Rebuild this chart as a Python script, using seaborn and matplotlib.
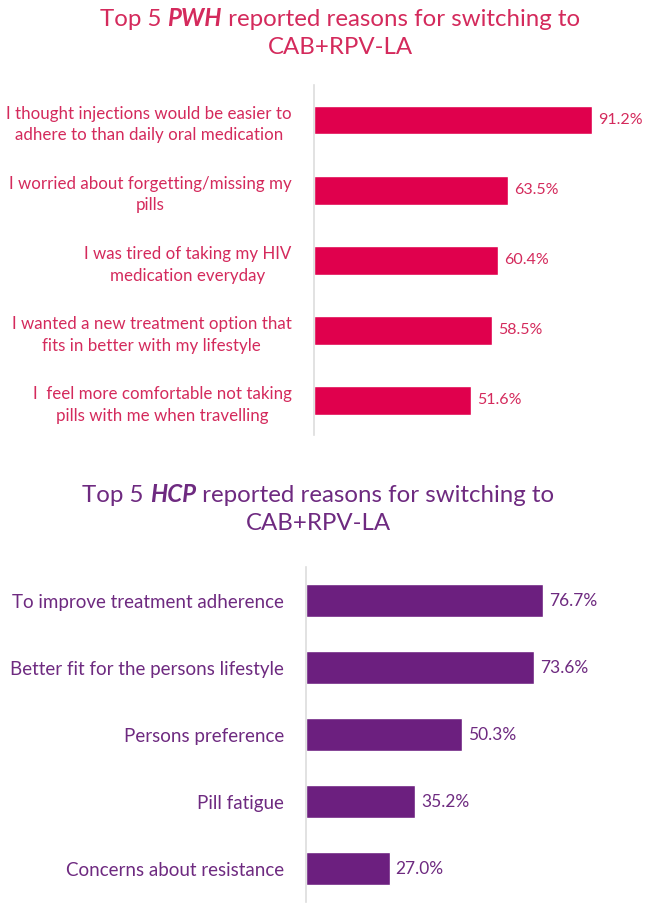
import pandas as pd
import seaborn as sns
import matplotlib.pyplot as plt

# Data
pwh_reasons = [
    "I thought injections would be easier to\nadhere to than daily oral medication",
    "I worried about forgetting/missing my\npills",
    "I was tired of taking my HIV\nmedication everyday",
    "I wanted a new treatment option that\nfits in better with my lifestyle",
    "I  feel more comfortable not taking\npills with me when travelling",
]
pwh_pct = [91.2, 63.5, 60.4, 58.5, 51.6]

hcp_reasons = [
    "To improve treatment adherence",
    "Better fit for the persons lifestyle",
    "Persons preference",
    "Pill fatigue",
    "Concerns about resistance",
]
hcp_pct = [76.7, 73.6, 50.3, 35.2, 27.0]

pink_bar = "#E0004D"
pink_text = "#D42A5C"
purple_bar = "#6C1F7F"
purple_text = "#6E2A80"

sns.set_style("white")
plt.rcParams['font.family'] = ['Lato', 'DejaVu Sans']

fig = plt.figure(figsize=(6.47, 9.05), dpi=100)
ax1 = fig.add_axes([0.485, 0.519, 0.472, 0.387])
ax2 = fig.add_axes([0.473, 0.003, 0.478, 0.3705])


def draw_panel(ax, reasons, pct, bar_col, txt_col, width, lsize, vsize):
    df = pd.DataFrame({"reason": reasons, "pct": pct})
    sns.barplot(data=df, x="pct", y="reason", orient="h", color=bar_col,
                width=width, saturation=1, ax=ax)
    ax.set_xlim(0, 100)
    ax.set_xlabel("")
    ax.set_ylabel("")
    ax.set_xticks([])
    for s in ["top", "right", "bottom"]:
        ax.spines[s].set_visible(False)
    ax.spines["left"].set_color("#DDDDDD")
    ax.spines["left"].set_linewidth(1.2)
    ax.tick_params(axis="y", length=0, pad=16, labelsize=lsize, labelcolor=txt_col)
    for lab in ax.get_yticklabels():
        lab.set_multialignment("center")
        lab.set_linespacing(1.45)
    for i, v in enumerate(pct):
        ax.text(v + 2, i, f"{v:.1f}%", va="center", ha="left",
                fontsize=vsize, color=txt_col)


draw_panel(ax1, pwh_reasons, pwh_pct, pink_bar, pink_text, 0.41, 12.2, 11.5)
draw_panel(ax2, hcp_reasons, hcp_pct, purple_bar, purple_text, 0.49, 13.5, 12.5)


def title(parts, cx, y, color, size=17.3):
    # draw a line of mixed-style text centred at cx (figure px)
    r = fig.canvas.get_renderer()
    objs = []
    for txt, bold in parts:
        t = fig.text(0, 0, txt, fontsize=size, color=color,
                     fontweight="bold" if bold else "normal",
                     fontstyle="italic" if bold else "normal",
                     transform=None, va="baseline")
        objs.append(t)
    widths = [o.get_window_extent(r).width for o in objs]
    x = cx - sum(widths) / 2
    for o, w in zip(objs, widths):
        o.set_position((x, y))
        x += w


H = 905
title([("Top 5 ", False), ("PWH", True), (" reported reasons for switching to", False)],
      340, H - 26, pink_text)
title([("CAB+RPV-LA", False)], 340, H - 54, pink_text)
title([("Top 5 ", False), ("HCP", True), (" reported reasons for switching to", False)],
      318, H - 502, purple_text)
title([("CAB+RPV-LA", False)], 318, H - 530, purple_text)

fig.savefig("out.png", dpi=100)
